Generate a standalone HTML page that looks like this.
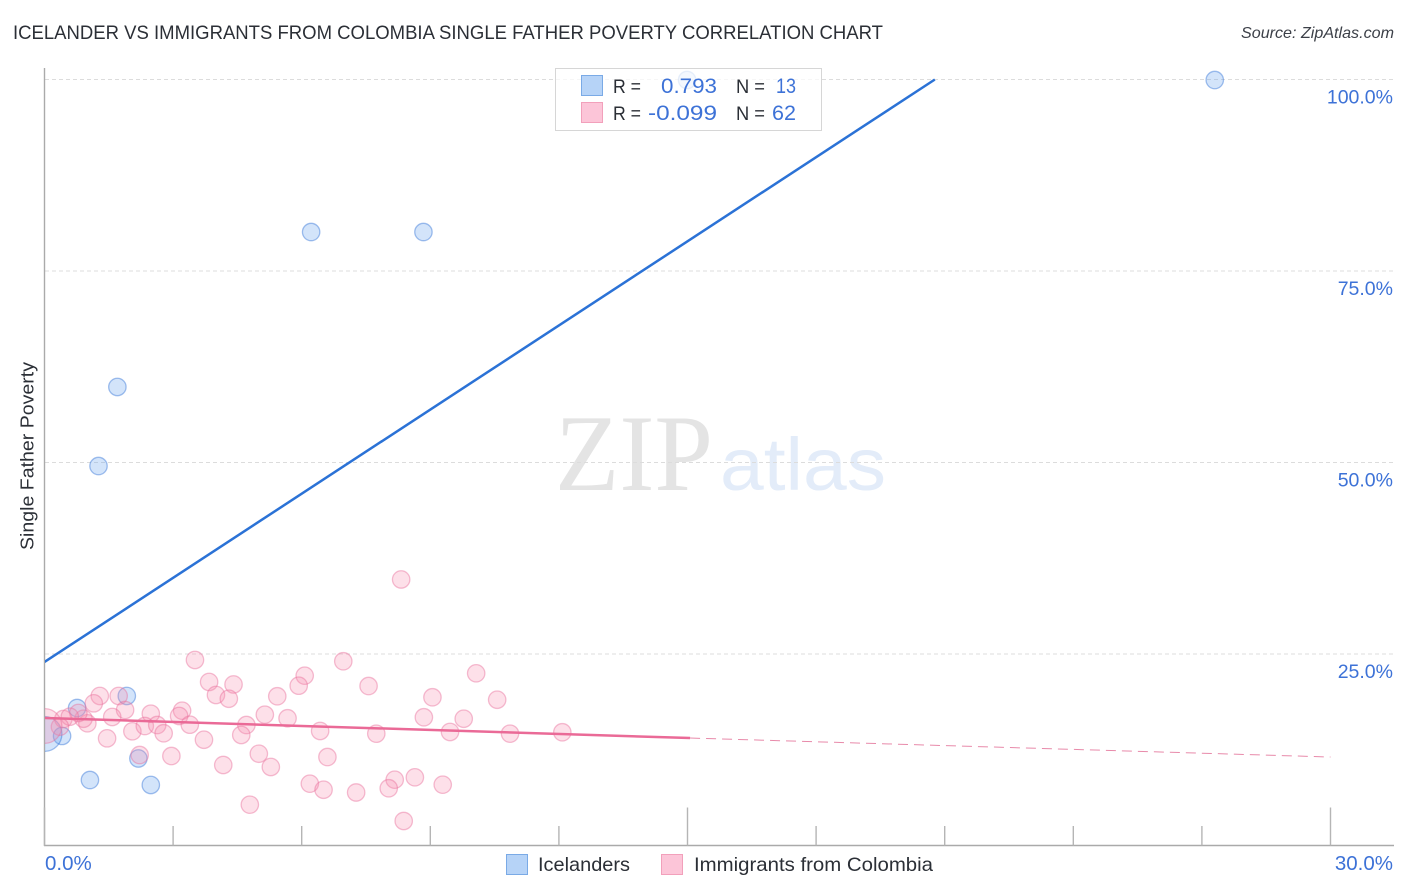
<!DOCTYPE html>
<html lang="en">
<head>
<meta charset="utf-8">
<title>Icelander vs Immigrants from Colombia Single Father Poverty Correlation Chart</title>
<style>
html,body{margin:0;padding:0;background:#fff;width:1406px;height:892px;overflow:hidden}
svg{display:block}
text{font-family:"Liberation Sans",sans-serif}
</style>
</head>
<body>
<svg id="chart" width="1406" height="892" viewBox="0 0 1406 892" xmlns="http://www.w3.org/2000/svg">
  <defs>
    <clipPath id="plot-clip"><rect x="45" y="60" width="1349" height="786"/></clipPath>
  </defs>
  <text x="13" y="39" font-size="19" fill="#2b2f36" textLength="870" lengthAdjust="spacingAndGlyphs">ICELANDER VS IMMIGRANTS FROM COLOMBIA SINGLE FATHER POVERTY CORRELATION CHART</text>
  <text x="1394" y="38" font-size="16" font-style="italic" fill="#3c4048" text-anchor="end" textLength="153" lengthAdjust="spacingAndGlyphs">Source: ZipAtlas.com</text>

  <g>
    <text x="555" y="490" font-size="109" fill="#e4e4e4" textLength="158" lengthAdjust="spacingAndGlyphs" style="font-family:'Liberation Serif',serif">ZIP</text>
    <text x="720" y="490" font-size="74" fill="#e3ecf9" textLength="166" lengthAdjust="spacingAndGlyphs">atlas</text>
  </g>

  <g id="grid"></g>
  <g id="axes"></g>
  <g id="points-blue" clip-path="url(#plot-clip)"></g>
  <g id="points-pink" clip-path="url(#plot-clip)"></g>
  <g id="trends" clip-path="url(#plot-clip)"></g>
  <g id="tick-labels"></g>

  <text transform="translate(33.5,456) rotate(-90)" font-size="18.5" fill="#2b2f36" text-anchor="middle" textLength="188" lengthAdjust="spacingAndGlyphs">Single Father Poverty</text>

  <g>
    <rect x="555.5" y="68.5" width="266" height="62" fill="#ffffff" fill-opacity="0.75" stroke="#d6d6d6" stroke-width="1"/>
    <rect x="581.5" y="75.5" width="21" height="20" fill="#b6d3f7" stroke="#7aaae6" stroke-width="1"/>
    <rect x="581.5" y="102.5" width="21" height="20" fill="#fcc5d8" stroke="#f2a0bb" stroke-width="1"/>
    <text x="613" y="93" font-size="19.5" fill="#2b2f36" textLength="28" lengthAdjust="spacingAndGlyphs">R =</text>
    <text x="661" y="93" font-size="21" fill="#3d72d7" textLength="56" lengthAdjust="spacingAndGlyphs">0.793</text>
    <text x="736" y="93" font-size="19.5" fill="#2b2f36" textLength="29" lengthAdjust="spacingAndGlyphs">N =</text>
    <text x="776" y="93" font-size="21" fill="#3d72d7" textLength="20" lengthAdjust="spacingAndGlyphs">13</text>
    <text x="613" y="120" font-size="19.5" fill="#2b2f36" textLength="28" lengthAdjust="spacingAndGlyphs">R =</text>
    <text x="648" y="120" font-size="21" fill="#3d72d7" textLength="69" lengthAdjust="spacingAndGlyphs">-0.099</text>
    <text x="736" y="120" font-size="19.5" fill="#2b2f36" textLength="29" lengthAdjust="spacingAndGlyphs">N =</text>
    <text x="772" y="120" font-size="21" fill="#3d72d7" textLength="24" lengthAdjust="spacingAndGlyphs">62</text>
  </g>

  <g>
    <rect x="506.5" y="854.5" width="21" height="20" fill="#b6d3f7" stroke="#7aaae6" stroke-width="1"/>
    <text x="538" y="871" font-size="19.5" fill="#2b2f36" textLength="92" lengthAdjust="spacingAndGlyphs">Icelanders</text>
    <rect x="661.5" y="854.5" width="21" height="20" fill="#fcc5d8" stroke="#f2a0bb" stroke-width="1"/>
    <text x="694" y="871" font-size="19.5" fill="#2b2f36" textLength="239" lengthAdjust="spacingAndGlyphs">Immigrants from Colombia</text>
  </g>
</svg>
<script>
const xTicks = [0, 3, 6, 9, 12, 15, 18, 21, 24, 27, 30];
const xTickLabels = ['0.0%', '30.0%'];
const xLabelValues = [0, 30];
const yTicks = [25, 50, 75, 100];
const yTickLabels = ['25.0%', '50.0%', '75.0%', '100.0%'];

const blueX = [6.22, 8.84, 1.70, 1.26, 14.99, 27.30, 0.76, 1.92, 0.41, 2.19, 1.06, 2.48, 0];
const blueY = [80.09, 80.09, 59.86, 49.54, 99.93, 99.93, 17.95, 19.52, 14.30, 11.36, 8.55, 7.90, 14.56];
const blueWeight = [1, 1, 1, 1, 1, 1, 1, 1, 1, 1, 1, 1, 4];

const pinkX = [3.51, 3.84, 4.00, 4.41, 4.30, 5.43, 6.07, 5.93, 6.97, 1.29, 1.73, 1.15, 1.88, 2.48, 3.21, 3.14, 3.39, 1.58, 1.00, 0.91, 0.79, 0.44, 0.59, 0.36, 2.05, 2.34, 2.63, 2.78, 1.46, 3.72, 4.71, 4.59, 5.14, 5.67, 6.43, 6.60, 5.00, 5.28, 4.17, 2.96, 2.22, 6.19, 6.51, 7.27, 4.79, 7.56, 9.05, 10.07, 10.56, 8.85, 9.78, 7.74, 9.46, 10.86, 12.08, 8.17, 8.03, 8.64, 9.29, 8.38, 8.32, 0];
const pinkY = [24.22, 21.35, 19.65, 21.02, 19.16, 19.48, 22.17, 20.86, 24.05, 19.52, 19.52, 18.56, 17.69, 17.21, 17.60, 16.91, 15.77, 16.78, 15.95, 16.55, 17.30, 16.51, 16.81, 15.51, 14.91, 15.60, 15.73, 14.65, 13.99, 13.81, 15.73, 14.43, 17.08, 16.61, 14.95, 11.55, 11.98, 10.25, 10.51, 11.68, 11.81, 8.07, 7.28, 6.92, 5.33, 20.82, 19.35, 22.48, 19.03, 16.74, 16.55, 14.60, 14.82, 14.60, 14.78, 8.59, 7.47, 8.90, 7.94, 3.20, 34.73, 15.60];
const pinkWeight = [1, 1, 1, 1, 1, 1, 1, 1, 1, 1, 1, 1, 1, 1, 1, 1, 1, 1, 1, 1, 1, 1, 1, 1, 1, 1, 1, 1, 1, 1, 1, 1, 1, 1, 1, 1, 1, 1, 1, 1, 1, 1, 1, 1, 1, 1, 1, 1, 1, 1, 1, 1, 1, 1, 1, 1, 1, 1, 1, 1, 1, 4];

const blueTrendX = [0, 20.77];
const blueTrendY = [23.96, 100];
const pinkTrendX = [0, 15.06];
const pinkTrendY = [16.65, 14.03];
const pinkForecastX = [15.06, 30];
const pinkForecastY = [14.03, 11.55];

const NS = 'http://www.w3.org/2000/svg';
const PLOT_LEFT = 44.5, PX_PER_X = 1286 / 30, PLOT_BOTTOM = 845.5, PX_PER_Y = 7.66;
function sx(v) { return PLOT_LEFT + v * PX_PER_X; }
function sy(v) { return PLOT_BOTTOM - v * PX_PER_Y; }
function rad(w) { return 8.7 * Math.sqrt(w); }
function make(tag, parent, attrs) {
  const el = document.createElementNS(NS, tag);
  for (const k in attrs) el.setAttribute(k, attrs[k]);
  parent.appendChild(el);
  return el;
}

const gridG = document.getElementById('grid');
yTicks.forEach(function (v) {
  const g = make('line', gridG, { x1: 45, x2: 1394, y1: sy(v), y2: sy(v), stroke: '#dcdcdc', 'stroke-width': 1, 'stroke-dasharray': '4 3' });
  
  
});

const axesG = document.getElementById('axes');
const yAxis = make('line', axesG, { x1: 44.5, x2: 44.5, y1: 68, y2: 846, stroke: '#aaaaaa', 'stroke-width': 1.4 });


const xAxis = make('line', axesG, { x1: 44, x2: 1394, y1: 845.5, y2: 845.5, stroke: '#aaaaaa', 'stroke-width': 1.4 });


xTicks.forEach(function (v) {
  const top = (v % 15 === 0) ? 807.5 : 826;
  const t = make('line', axesG, { x1: sx(v), x2: sx(v), y1: top, y2: 845.5, stroke: '#b5b5b5', 'stroke-width': 1.4 });
  
  
});

function drawPoints(groupId, xs, ys, ws, fill, stroke, name) {
  const g = document.getElementById(groupId);
  xs.forEach(function (x, i) {
    const c = make('circle', g, { cx: sx(x), cy: sy(ys[i]), r: rad(ws[i]), fill: fill, stroke: stroke, 'stroke-width': 1.3 });
    
    
  });
}
drawPoints('points-blue', blueX, blueY, blueWeight, 'rgba(110,165,240,0.30)', 'rgba(50,115,215,0.45)', 'icelanders-point');
drawPoints('points-pink', pinkX, pinkY, pinkWeight, 'rgba(246,140,175,0.27)', 'rgba(232,110,155,0.45)', 'colombia-point');

const trendsG = document.getElementById('trends');
const blueLine = make('line', trendsG, { x1: sx(blueTrendX[0]), y1: sy(blueTrendY[0]), x2: sx(blueTrendX[1]), y2: sy(blueTrendY[1]), stroke: '#2b72d6', 'stroke-width': 2.5 });


const pinkLine = make('line', trendsG, { x1: sx(pinkTrendX[0]), y1: sy(pinkTrendY[0]), x2: sx(pinkTrendX[1]), y2: sy(pinkTrendY[1]), stroke: '#ea6a97', 'stroke-width': 2.5 });


const pinkDash = make('line', trendsG, { x1: sx(pinkForecastX[0]), y1: sy(pinkForecastY[0]), x2: sx(pinkForecastX[1]), y2: sy(pinkForecastY[1]), stroke: '#e88aaa', 'stroke-width': 1, 'stroke-dasharray': '10 6' });



const labelsG = document.getElementById('tick-labels');
yTicks.forEach(function (v, i) {
  const t = make('text', labelsG, { x: 1393, y: sy(v) + 24, 'font-size': 19.5, fill: '#3d72d7', 'text-anchor': 'end' });
  
  
  t.textContent = yTickLabels[i];
});
xLabelValues.forEach(function (v, i) {
  const t = make('text', labelsG, { x: i === 0 ? sx(v) + 0.5 : 1393, y: 870, 'font-size': 20.5, fill: '#3d72d7', 'text-anchor': i === 0 ? 'start' : 'end' });
  
  
  t.textContent = xTickLabels[i];
});
</script>
</body>
</html>
